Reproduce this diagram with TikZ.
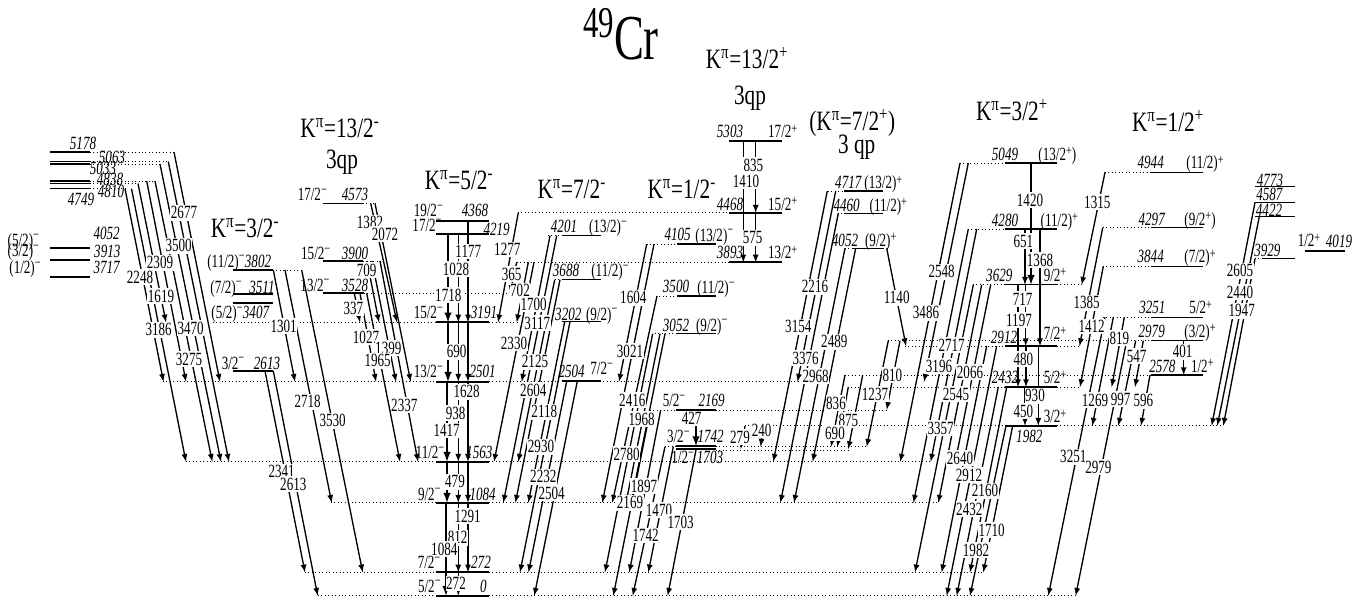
\documentclass[tikz,border=0pt]{standalone}
\usepackage{fontspec}
\setmainfont[FakeStretch=0.7]{Liberation Serif}
\newfontfamily\headfont[FakeStretch=0.76]{Liberation Serif}
\newcommand{\mi}{\raisebox{4.8pt}[0pt][0pt]{\fontsize{11}{11}\selectfont −}}
\newcommand{\pl}{\raisebox{3.6pt}[0pt][0pt]{\fontsize{11}{11}\selectfont +}}
\newcommand{\kpi}[2]{K\textsuperscript{π}=#1\textsuperscript{#2}}
\tikzset{
  lev/.style={line width=0.8pt},
  levb/.style={line width=1.6pt},
  dot/.style={line width=0.6pt, dotted},
  gam/.style={->, line width=1pt},
  gamb/.style={->, line width=1.5pt},
  gamlabel/.style={fill=white, inner xsep=0.4pt, inner ysep=1.2pt, font=\fontsize{14}{14}\selectfont},
  enlabel/.style={inner sep=0pt, font=\fontsize{14}{14}\selectfont\itshape},
  spinlabel/.style={inner sep=0pt, text height=9.4pt, text depth=0pt, font=\fontsize{14}{14}\selectfont},
  head/.style={inner sep=0pt, font=\fontsize{21}{21}\selectfont\headfont}
}

\begin{document}
\begin{tikzpicture}[x=0.75pt, y=-0.75pt, >=latex]
  \useasboundingbox (0,0) rectangle (1366,598);
  % ==== DOTTED LEVEL EXTENSIONS ====
  \foreach \y/\xa/\xb in {152/90/174, 161.5/90/168, 164/90/160, 181/90/155, 183.5/90/138, 188.7/90/125,
      203.3/363/375, 261/363/381, 270/273/302, 293.3/364/508, 322.3/213/436, 322.3/489/517,
      381.7/163/436, 381.7/489/798, 461.7/186/436, 461.7/489/930, 502.7/331/436, 502.7/489/938,
      572.3/305/436, 572.3/489/983, 595.7/317.7/436, 595.7/489/1075.7,
      212.7/518/729, 262.3/517/729, 235.7/548/562, 279.7/555/562,
      244/646.7/677, 296/656/677, 333.7/655/677, 410/650/887,
      425.7/745/1005, 425.7/1057/1223, 446.7/665/676, 446.7/716/867, 450/716/848,
      191/828/844, 213.3/838/844, 248.3/845/887,
      163/960/1005, 229/968/1005, 284.7/973/1005, 284.7/1057/1082,
      340.7/888/1151, 346/905/1005, 346/1057/1080, 375/845/1151, 387/848/1005, 387/1057/1080,
      172.3/1105/1151, 227.7/1103/1151, 266.3/1103/1151, 317.3/1103/1151, 258.7/1255/1262}
    \draw[dot] (\xa,\y) -- (\xb,\y);
  % ==== LEVELS ====
  \foreach \y/\xa/\xb in {152/50/90, 161.5/50/90, 164/50/90, 181/50/90, 183.5/50/90, 188.7/50/90,
      270/233/273, 203.3/323/363, 261/323/363,
      235.7/562/601, 279.7/562/601, 321.7/562/601,
      244/677/716, 296/677/716, 333.7/677/716, 410/676/716,
      191/844/883, 213.3/844/883, 248.3/853/883,
      163/1005/1057, 229/1005/1057, 284.7/1005/1057, 346/1005/1057,
      172.3/1151/1203, 227.7/1151/1203, 266.3/1151/1203, 317.3/1151/1203, 340.7/1151/1203,
      186.7/1255/1295, 202.3/1255/1295, 216.7/1255/1295, 258.7/1262/1295}
    \draw[lev] (\xa,\y) -- (\xb,\y);
  \foreach \y/\xa/\xb in {248.3/50/90, 260.3/50/90, 277/50/90, 294/233/273, 303/233/273, 371/233/273,
      293.3/323/364, 221/436/489, 234/436/489, 322.3/436/489, 381.7/436/489, 461.7/436/489,
      502.7/436/489, 572.3/436/489, 595.7/436/489, 381.3/562/601, 446/676/716, 449/676/716,
      141.3/729/782, 212.7/729/782, 262.3/729/782, 387/1005/1057, 425.7/1005/1057, 375/1151/1203, 251.3/1305/1345}
    \draw[levb] (\xa,\y) -- (\xb,\y);
  % ==== TRANSITIONS ====
  \foreach \xa/\ya/\xb/\yb [count=\i] in {174/152/220/381.7, 168.3/161.5/229/461.7, 160/164/221/461.7,
      155/181/212.3/461.7, 146.7/181/186/381.7, 138/183.5/166/322.3, 131.5/188.7/186/461.7, 125/188.7/163.5/381.7,
      273.3/270/295/381.7, 285/270/331.7/502.7, 301.7/270/362.7/572.3, 265/371/305/572.3, 273.3/371/317.7/595.7,
      370.7/203.3/397/322.3, 375/203.3/410.7/381.7, 367/261/379/322.3, 372/261/396/381.7, 380/261/418/461.7,
      354.3/293.3/360/322.3, 360/293.3/376/381.7, 366.7/293.3/400/461.7,
      458.3/234/458.3/322.3, 458.3/322.3/458.3/381.7, 458.3/381.7/458.3/461.7, 458.3/461.7/458.3/502.7,
      458.3/502.7/458.3/572.3, 458.3/572.3/458.3/595.7,
      468/221/468/322.3, 468/322.3/468/381.7, 468/381.7/468/461.7, 468/461.7/468/502.7, 468/502.7/468/572.3,
      518.3/212.7/498/322.3, 516.7/262.3/510/293.3, 528.3/262.3/516.7/322.3, 534/262.3/494/461.7,
      550/235.7/521.7/381.7, 556.7/235.7/503.3/502.7, 554.7/279.7/518.3/461.7, 560/279.7/515.4/502.7,
      564.7/321.7/528.3/502.7, 570/321.7/520/572.3, 566.7/381.3/528.5/572.3, 577.3/381.3/534.3/595.7,
      646.7/244/619/381.7, 654/244/602.3/502.7, 657/296/612.3/502.7, 652.7/333.7/605/572.3, 660/333.7/626/502.7,
      665/333.7/631/502.7, 660.7/410/629.3/572.3, 650.3/410/613.3/595.7, 673.3/446.7/648.3/572.3,
      665/446.7/632.7/595.7, 696/450/667.7/595.7, 745/426/740.7/449, 763/426/760.7/446.7,
      743.3/141.3/743.3/262.3, 755.7/141.3/755.7/212.7, 755.7/212.7/755.7/262.3,
      827.3/191/773.3/461.7, 835.7/191/797.5/381.7, 838.3/213.3/780.4/502.7, 855.7/248.3/812.7/461.7, 845/248.3/794/502.7,
      886.7/248.3/906/346, 900/340.7/886.7/409.7, 888.3/340.7/866.7/446.7, 862.7/375/848.3/449, 845/375/831/446.7, 848.3/387/837.3/446.7,
      968.3/163/924/381.7, 960/163/900.3/461.7, 976.7/229/930.7/461.7, 968.3/229/913.5/502.7,
      981.7/284.7/938.3/502.7, 973.3/284.7/915/572.3, 990.7/284.7/955.3/461.7, 986.7/346/941.7/572.3, 996.7/346/946.7/595.7,
      1006.7/387/970/572.3, 998.3/387/956.7/595.7, 1012.7/425.7/983.3/572.3, 1006/425.7/970/595.7,
      1025/229/1025/284.7, 1040/229/1040/346, 1025.7/284.7/1025.7/346,
      1018/284.7/1018/387, 1026/346/1026/387, 1038.3/346/1038.3/425.7, 1025/387/1025/425.7,
      1105/172.3/1081.7/284.7, 1102.7/227.7/1079.5/346, 1103.3/266.3/1080/387, 1105/317.3/1048.3/595.7,
      1113.3/317.3/1092.3/425.7, 1124.3/317.3/1111.7/387, 1126.7/340.7/1075.7/595.7, 1135.7/340.7/1118.3/425.7,
      1143.3/340.7/1135/387, 1150/375/1141/425.7, 1183.7/340.7/1183.7/375,
      1255/202.3/1211.7/425.7, 1259.3/216.7/1217.3/425.7, 1255/258.7/1223.3/425.7}
    {
      \coordinate (from\i) at (\xa,\ya);
      \coordinate (to\i) at (\xb,\yb);
      \draw[gam] (from\i) -- (to\i);
    }
  \foreach \xa/\ya/\xb/\yb [count=\i] in {448/234/448/322.3, 448/322.3/448/381.7, 447/381.7/447/461.7,
      447/461.7/447/502.7, 446/502.7/446/595.7, 696/410/696/446, 1031/163/1031/284.7}
    {
      \coordinate (thickfrom\i) at (\xa,\ya);
      \coordinate (thickto\i) at (\xb,\yb);
      \draw[gamb] (thickfrom\i) -- (thickto\i);
    }
  % ==== TRANSITION ENERGIES ====
  \foreach \x/\y/\e [count=\i] in {184/212.7/2677, 178.7/245.7/3500, 160/262.7/2309, 140/277/2248, 161/296/1619,
      158.7/329.7/3186, 190.7/328/3470, 189/359/3275, 283.7/326/1301, 307.7/401.7/2718, 332.7/420.7/3530,
      281.7/471.7/2341, 293.3/484.3/2613, 370/222.7/1382, 385/234.3/2072, 366.7/270/709, 353.3/308.3/337,
      366/337.3/1027, 388.3/348.3/1399, 377.7/360.7/1965, 404.3/405/2337,
      468.3/251.7/1177, 456/269.3/1028, 448.3/295/1718, 456.7/351.7/690, 466.7/391.7/1628, 455.7/413.3/938,
      446.7/430.7/1417, 455/481.7/479, 467.7/516/1291, 457.7/537.7/812, 444.3/549.3/1084, 456/583.3/272,
      507.3/249.3/1277, 511.7/274/365, 520/290.7/702, 533.7/304.3/1700, 537.3/323.3/3117, 514/343.3/2330,
      535/361.7/2125, 533.3/390/2604, 544.3/411.7/2118, 541/446.7/2930, 543.3/476.7/2232, 551.7/493.3/2504,
      633.3/297.7/1604, 630/351/3021, 632.3/400/2416, 641.7/419/1968, 626.7/454/2780, 644/486/1897, 630/502.7/2169,
      659/510/1470, 645.7/535.7/1742, 680.7/522.3/1703, 691.7/418.3/427, 740/437.3/279, 761.7/430/240,
      746/181/1410, 753.3/165/835, 752.7/237.7/575,
      815/286.7/2216, 798.3/326.7/3154, 834.3/341.7/2489, 805.7/358.3/3376, 815.7/376/2968, 896.7/297.7/1140,
      892.3/375/810, 836/403.3/836, 848.3/420/875, 835/433.3/690, 875/394/1237,
      941.7/271.7/2548, 926/312.7/3486, 951.7/345/2717, 939/366/3196, 970/372.3/2066, 956/394/2545,
      940.7/428.3/3357, 960/458.3/2640, 969/475/2912, 985/490.7/2160, 969.3/509.3/2432, 991.7/530/1710, 976/550/1982,
      1030/200/1420, 1023.3/241/651, 1040/260/1368, 1022.7/299/717, 1019/320/1197, 1023.3/359/480, 1035/395.7/930, 1023.3/411/450,
      1097.3/202.3/1315, 1086.7/302.7/1385, 1091.7/326.7/1412, 1119.3/338.3/819, 1136.7/356/547, 1182.7/351.7/401,
      1095/400/1269, 1120.7/399.3/997, 1143.3/400.7/596, 1073.3/456.7/3251, 1098.3/467.3/2979,
      1240/270.7/2605, 1240/292.3/2440, 1241.7/310.7/1947}
    \node[gamlabel] (gam\i) at (\x,\y) {\e};
  % ==== LEVEL ENERGIES ====
  \foreach \x/\y/\e [count=\i] in {83/143/5178, 112/157/5063, 103/168/5033, 110/179/4838, 111/191/4810, 81/199/4749,
      106.7/233.3/4052, 107.3/251/3913, 106.7/267.3/3717,
      258/261/3802, 262/287/3511, 256/312.7/3407, 267/363/2613,
      355/194.3/4573, 355/253.3/3900, 355/285/3528,
      475/210/4368, 496.7/229/4219, 484/312.7/3191, 482.7/371.7/2501, 479.3/452.7/1563, 482.7/494/1084, 481/562.7/272, 483.3/586.7/0,
      564/226.7/4201, 566/270.7/3688, 568.3/314/3202, 571.7/371.7/2504,
      677.7/234.3/4105, 676/286.7/3500, 676/325/3052, 711.7/400.7/2169, 710.7/436.7/1742, 710/457.3/1703,
      730/131.7/5303, 730/204.3/4468, 730/252.7/3893,
      848.3/182.7/4717, 846.7/205/4460, 845/240/4052,
      1005/154/5049, 1005/220/4280, 999.3/275.3/3629, 1004/337.3/2912, 1005/377.7/2432, 1029.3/436/1982,
      1150.7/162.7/4944, 1151.7/219.3/4297, 1150.7/256.7/3844, 1152.3/307.7/3251, 1151.7/331/2979, 1162.3/366/2578,
      1270/180/4773, 1269.3/194.3/4587, 1269/210/4422, 1267.3/250/3929, 1339/241.7/4019}
    \node[enlabel] (en\i) at (\x,\y) {\e};
  % ==== SPINS ====
  \foreach \x/\y/\s [count=\i] in {23.3/240/{(5/2)\mi}, 23.3/250.7/{(3/2)\mi}, 25/267.7/{(1/2)\mi},
      226/261/{(11/2)\mi}, 226/287/{(7/2)\mi}, 227/312.7/{(5/2)\mi}, 233/363/{3/2\mi},
      312.3/194.3/{17/2\mi}, 315.7/253.3/{15/2\mi}, 315/285/{13/2\mi},
      428.3/210.7/{19/2\mi}, 427/225/{17/2\mi}, 428.3/312.7/{15/2\mi}, 428.3/371.7/{13/2\mi}, 430/452.7/{11/2\mi},
      429.3/494/{9/2\mi}, 429/562.7/{7/2\mi}, 429.3/586/{5/2\mi},
      608/226.7/{(13/2)\mi}, 610/270.7/{(11/2)\mi}, 601.7/314/{(9/2)\mi}, 601.7/368.3/{7/2\mi},
      714.3/235/{(13/2)\mi}, 716/287.3/{(11/2)\mi}, 711.7/325/{(9/2)\mi},
      674/400.7/{5/2\mi}, 678.3/436.7/{3/2\mi}, 682.7/457.3/{1/2\mi},
      782.7/131.7/{17/2\pl}, 782.7/204.3/{15/2\pl}, 782.7/252.7/{13/2\pl},
      883.3/182.7/{(13/2)\pl}, 888.3/205/{(11/2)\pl}, 880.7/240/{(9/2)\pl},
      1057.3/154/{(13/2\pl)}, 1059.3/220/{(11/2)\pl}, 1055/275.3/{9/2\pl}, 1055/333.7/{7/2\pl}, 1055/377.7/{5/2\pl}, 1055/416.7/{3/2\pl},
      1205/162.7/{(11/2)\pl}, 1200/219.3/{(9/2\pl)}, 1200/256.7/{(7/2)\pl}, 1200.7/307.7/{5/2\pl}, 1200/331/{(3/2)\pl}, 1202.3/366/{1/2\pl},
      1309/240.7/{1/2\pl}}
    \node[spinlabel] (spin\i) at (\x,\y) {\s};
  % ==== BANDS AND TITLE ====
  \node[anchor=base, inner sep=0pt, font=\fontsize{48}{48}\selectfont] (title) at (621,60)
    {\raisebox{16.5pt}{\fontsize{33}{33}\selectfont 49}Cr};
  \node[head] (bandA) at (747,58) {\kpi{13/2}{+}};
  \node[head] (bandAq) at (750,98) {3qp};
  \node[head] (bandB) at (340,128) {\kpi{13/2}{-}};
  \node[head] (bandBq) at (342,162) {3qp};
  \node[head] (bandC) at (245,228) {\kpi{3/2}{-}};
  \node[head] (bandD) at (459,180) {\kpi{5/2}{-}};
  \node[head] (bandE) at (571.7,189) {\kpi{7/2}{-}};
  \node[head] (bandF) at (681.7,189) {\kpi{1/2}{-}};
  \node[head] (bandG) at (852.3,123) {(\kpi{7/2}{+})};
  \node[head] (bandGq) at (856.7,147.7) {3 qp};
  \node[head] (bandH) at (1012,110) {\kpi{3/2}{+}};
  \node[head] (bandI) at (1168,121) {\kpi{1/2}{+}};
\end{tikzpicture}
\end{document}
